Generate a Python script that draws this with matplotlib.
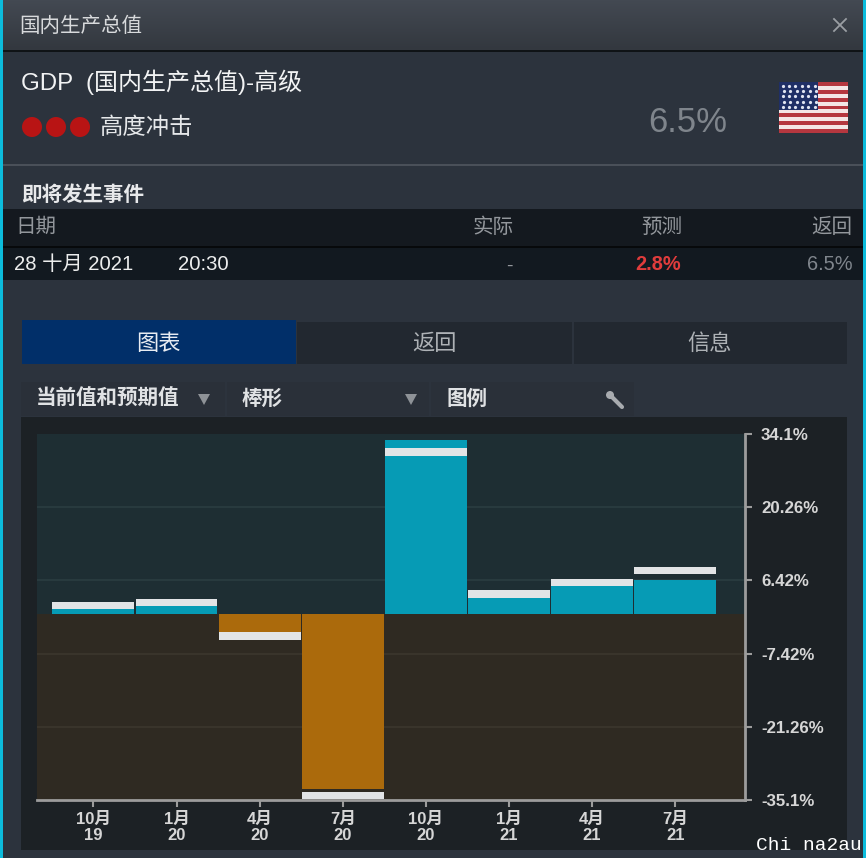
import numpy as np
import matplotlib
matplotlib.use("Agg")
import matplotlib.pyplot as plt
from matplotlib.patches import Rectangle, Circle, Polygon

# chart values
quarters = ["10月\n19", "1月\n20", "4月\n20", "7月\n20", "10月\n20", "1月\n21", "4月\n21", "7月\n21"]
actual = [2.3, 2.9, -3.5, -33.1, 33.0, 3.3, 5.4, 6.5]
forecast = [1.7, 2.3, -4.1, -34.2, 30.7, 3.85, 6.1, 8.3]
y_ticks = [34.1, 20.26, 6.42, -7.42, -21.26, -35.1]
y_tick_labels = ["34.1%", "20.26%", "6.42%", "-7.42%", "-21.26%", "-35.1%"]

W, H = 866, 858
CJK = ["Liberation Sans", "Noto Sans CJK SC"]

fig = plt.figure(figsize=(W / 100, H / 100), dpi=100)
bg = fig.add_axes([0, 0, 1, 1])
bg.axis("off")


def rect(x0, y0, x1, y1, color, z=1):
    bg.add_patch(Rectangle((x0, y0), x1 - x0, y1 - y0, color=color, lw=0, zorder=z))


def label(x, y, s, size=14.8, color="#e6e8ea", ha="left", weight="normal"):
    bg.text(x, y, s, fontsize=size, color=color, ha=ha, va="center",
            family=CJK, fontweight=weight, zorder=5)


# panel body and header gradient
rect(0, 0, W, H, "#2c333d")
grad = np.linspace(0, 1, 50).reshape(-1, 1)
bg.imshow(grad, extent=(0, W, 50, 0), aspect="auto", zorder=1.5,
          cmap=matplotlib.colors.LinearSegmentedColormap.from_list("hd", ["#434952", "#33383f"]))
bg.set_xlim(0, W)
bg.set_ylim(H, 0)
rect(0, 50, W, 52, "#0f1316", 2)
rect(0, 0, 3, H, "#0cbcdc", 6)
rect(863, 0, W, H, "#0cbcdc", 6)
rect(3, 164, 863, 166, "#4a5059", 2)

label(19, 26, "国内生产总值", 14.8, "#d8dadc")
bg.plot([834, 846], [19, 31], color="#9a9ea3", lw=1.3, zorder=5)
bg.plot([834, 846], [31, 19], color="#9a9ea3", lw=1.3, zorder=5)

label(21, 82, "GDP  (国内生产总值)-高级", 17.3, "#f2f3f4")
for cx in [32, 56, 80]:
    bg.add_patch(Circle((cx, 127), 10, color="#b81414", lw=0, zorder=3))
label(100, 127, "高度冲击", 16.8, "#e6e8ea")
label(727, 122, "6.5%", 25, "#7f858c", ha="right")

# flag
rect(779, 82, 848, 133, "#f4e6e6", 3)
for i in range(7):
    y0 = 82 + i * 51 / 6.5
    rect(779, y0, 848, y0 + 51 / 13, "#b5373f", 3)
rect(779, 82, 818, 110, "#1f2f66", 4)
for r in range(5):
    for c in range(6):
        bg.plot(782.5 + c * 6.4 + (r % 2) * 1.5, 85.5 + r * 5.4, ".", ms=2.6, color="#dfe3f0", zorder=4.5)

# upcoming events table
label(21, 195, "即将发生事件", 14.8, "#e8e9eb", weight="bold")
rect(3, 209, 863, 246, "#14191f", 2)
rect(3, 246, 863, 248, "#07090b", 2)
rect(3, 248, 863, 280, "#121920", 2)
for x, s in [(15, "日期"), (472, "实际"), (641, "预测"), (811, "返回")]:
    label(x, 227, s, 14.8, "#93979c")
label(14, 265, "28 十月 2021", 14.6, "#eceded")
label(178, 265, "20:30", 14.6, "#eceded")
label(509, 266, "-", 14, "#93979c", ha="center")
label(681, 265, "2.8%", 14.4, "#e03c3c", ha="right", weight="bold")
label(853, 265, "6.5%", 14.4, "#7f858c", ha="right")

# tabs
rect(22, 320, 296, 364, "#012f69", 2)
rect(297, 322, 572, 364, "#222830", 2)
rect(574, 322, 847, 364, "#222830", 2)
label(158, 344, "图表", 16, "#e8ecf2", ha="center")
label(435, 344, "返回", 16, "#aeb2b6", ha="center")
label(710, 344, "信息", 16, "#aeb2b6", ha="center")

# dropdown row
for x0, x1 in [(21, 225), (227, 429), (431, 634)]:
    rect(x0, 382, x1, 416, "#2a3039", 2)
label(36, 399, "当前值和预期值", 14.8, "#e0e2e4", weight="bold")
label(241, 399, "棒形", 14.8, "#e0e2e4", weight="bold")
label(446, 399, "图例", 14.8, "#e0e2e4", weight="bold")
for cx in [204, 411]:
    bg.add_patch(Polygon([(cx - 6, 394), (cx + 6, 394), (cx, 405)], color="#8e9297", lw=0, zorder=3))
bg.plot([609, 622], [394, 407], color="#a8abaf", lw=3, zorder=3, solid_capstyle="round")
bg.add_patch(Circle((610, 395), 4, color="#a8abaf", lw=0, zorder=3))

# chart frame
rect(21, 417, 847, 850, "#1c2125", 2)
label(862, 845, "Chi na2au", 14, "#ffffff", ha="right")
bg.texts[-1].set_family("Liberation Mono")

# chart axes
ax = fig.add_axes([37 / W, 1 - 800 / H, (745 - 37) / W, (800 - 434) / H])
ax.patch.set_alpha(0)
ax.set_zorder(3)
ax.set_xlim(-0.679, 7.84)
ax.set_ylim(y_ticks[-1], y_ticks[0])
ax.axhspan(0, y_ticks[0], color="#1e2e33", lw=0, zorder=0)
ax.axhspan(y_ticks[-1], 0, color="#2f2a22", lw=0, zorder=0)
for v in y_ticks[1:-1]:
    ax.axhline(v, color="#283a3e" if v > 0 else "#39342b", lw=1.5, zorder=1)

x = np.arange(len(quarters))
colors = ["#069bb5" if v > 0 else "#ab6a0c" for v in actual]
ax.bar(x, actual, width=0.985, color=colors, zorder=2)
band = 1.35
ax.bar(x, [band] * len(x), bottom=[v - band / 2 for v in forecast], width=0.985, color="#e2e4e6", zorder=3)

for s in ["left", "top"]:
    ax.spines[s].set_visible(False)
for s in ["right", "bottom"]:
    ax.spines[s].set_color("#9c9c9c")
    ax.spines[s].set_linewidth(2)
ax.yaxis.tick_right()
ax.set_yticks(y_ticks)
ax.set_yticklabels(y_tick_labels, fontsize=12.2, color="#d6d6d6", family="Liberation Sans", fontweight="bold")
ax.set_xticks(x)
ax.set_xticklabels(quarters, fontsize=12, color="#d6d6d6", family=CJK, fontweight="bold", linespacing=1.1)
ax.tick_params(axis="y", length=5, width=1.5, color="#9c9c9c", pad=6.5)
ax.tick_params(axis="x", length=5, width=1.5, color="#9c9c9c", pad=3.5)

fig.savefig("out.png", dpi=100)
